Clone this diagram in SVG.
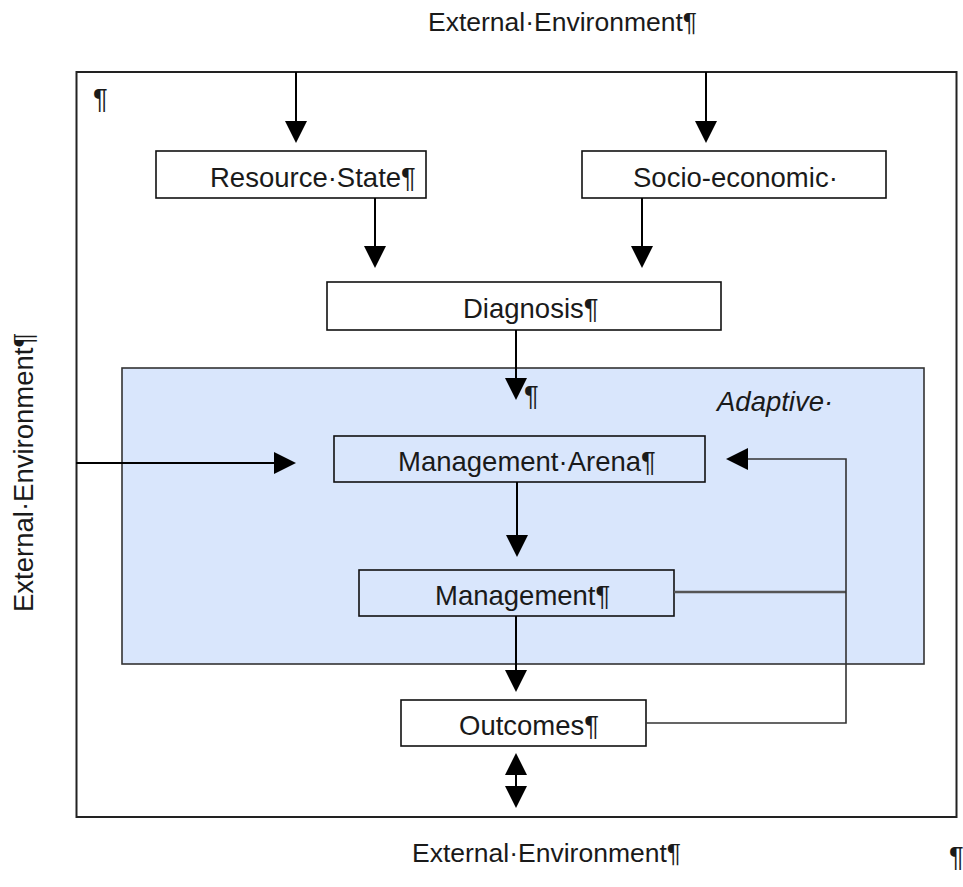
<svg xmlns="http://www.w3.org/2000/svg" width="963" height="887" viewBox="0 0 963 887">
<style>
  text { font-family: "Liberation Sans", Arial, sans-serif; font-size: 27.5px; fill: #1a1a1a; }
  .ext { font-size: 26.5px; }
  .box { fill: #fff; stroke: #111; stroke-width: 1.6; }
  .clear { fill: none; stroke: #111; stroke-width: 1.6; }
  .conn { fill: none; stroke: #000; stroke-width: 2; }
  .fb { fill: none; stroke: #333; stroke-width: 1.6; }
  .grey { fill: none; stroke: #555; stroke-width: 2.4; }
</style>
<defs>
  <marker id="ah" viewBox="0 0 22 22" refX="1" refY="11" markerWidth="22" markerHeight="22" markerUnits="userSpaceOnUse" orient="auto-start-reverse">
    <path d="M0,0 L22,11 L0,22 z" fill="#000"/>
  </marker>
</defs>
<rect width="963" height="887" fill="#fff"/>

<g id="external-frame">
  <rect x="76.5" y="72" width="880" height="745" fill="none" stroke="#222" stroke-width="2"/>
  <text x="93" y="108">¶</text>
</g>
<g id="adaptive-arena">
  <rect x="122" y="368" width="802" height="296" fill="#D9E6FC" stroke="#333" stroke-width="1.6"/>
  <text x="717" y="411" font-style="italic">Adaptive·</text>
</g>

<g id="label-top"><text class="ext" x="428" y="31">External·Environment¶</text></g>
<g id="label-bottom"><text class="ext" x="412" y="862">External·Environment¶</text></g>
<g id="label-left"><text transform="translate(33,612) rotate(-90)">External·Environment¶</text></g>
<g id="edge-mark"><text x="949" y="866" font-size="24">¶</text></g>

<g id="resource-state">
  <rect class="box" x="156" y="151" width="270" height="47"/>
  <text x="210" y="187">Resource·State¶</text>
</g>
<g id="socio-economic">
  <rect class="box" x="582" y="151" width="304" height="47"/>
  <text x="633" y="187">Socio-economic·</text>
</g>
<g id="diagnosis">
  <rect class="box" x="327" y="282" width="394" height="48"/>
  <text x="463" y="318">Diagnosis¶</text>
</g>
<g id="management-arena">
  <rect class="clear" x="334" y="436" width="371" height="46"/>
  <text x="398" y="471">Management·Arena¶</text>
</g>
<g id="management">
  <rect class="clear" x="359" y="570" width="315" height="46"/>
  <text x="435" y="605">Management¶</text>
</g>
<g id="outcomes">
  <rect class="box" x="401" y="700" width="245" height="46"/>
  <text x="459" y="735">Outcomes¶</text>
</g>

<g id="connectors">
  <line class="conn" x1="296" y1="72" x2="296" y2="122" marker-end="url(#ah)"/>
  <line class="conn" x1="706" y1="72" x2="706" y2="122" marker-end="url(#ah)"/>
  <line class="conn" x1="375" y1="198" x2="375" y2="247" marker-end="url(#ah)"/>
  <line class="conn" x1="642" y1="198" x2="642" y2="247" marker-end="url(#ah)"/>
  <line class="conn" x1="516" y1="330" x2="516" y2="379" marker-end="url(#ah)"/>
  <text x="524" y="405">¶</text>
  <line class="conn" x1="76" y1="463" x2="275" y2="463" marker-end="url(#ah)"/>
  <line class="conn" x1="517" y1="482" x2="517" y2="536" marker-end="url(#ah)"/>
  <line class="conn" x1="516" y1="616" x2="516" y2="671" marker-end="url(#ah)"/>
  <line class="conn" x1="516" y1="774" x2="516" y2="787" marker-start="url(#ah)" marker-end="url(#ah)"/>
  <path class="grey" d="M674,592 H846"/>
  <path class="fb" d="M646,723 H846 V459 H747" marker-end="url(#ah)"/>
</g>
</svg>
